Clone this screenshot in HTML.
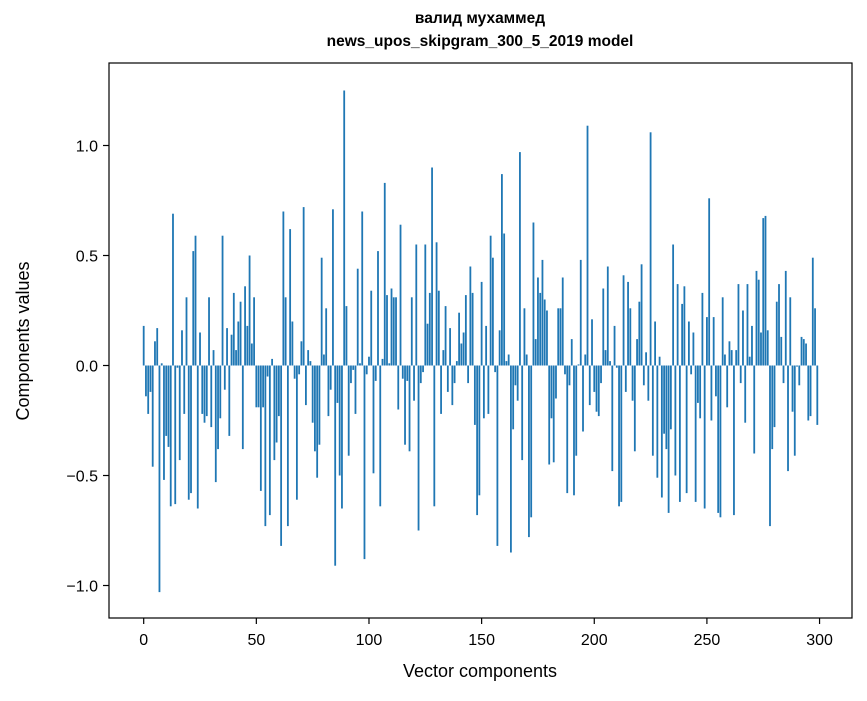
<!DOCTYPE html>
<html><head><meta charset="utf-8"><style>
body{margin:0;background:#fff;}
svg text{font-family:"Liberation Sans","DejaVu Sans",sans-serif;}
</style></head><body>
<svg id="chart" width="867" height="696" viewBox="0 0 867 696" xmlns="http://www.w3.org/2000/svg">
<rect width="867" height="696" fill="#fff"/>
<text x="480" y="28" text-anchor="middle" font-size="15.5" font-weight="bold" transform="translate(0,-5)">валид мухаммед</text>
<text x="480" y="51" text-anchor="middle" font-size="15.5" font-weight="bold" transform="translate(0,-5)">news_upos_skipgram_300_5_2019 model</text>
<g id="bars"></g>
<g id="axes"></g>
<rect x="109" y="63" width="743" height="555" fill="none" stroke="#000" stroke-width="1.2"/>
<text x="480" y="677" text-anchor="middle" font-size="18">Vector components</text>
<text transform="translate(29,341) rotate(-90)" text-anchor="middle" font-size="18">Components values</text>
</svg>
<script>
const values = [
0.18,-0.14,-0.22,-0.12,-0.46,0.11,0.17,-1.03,0.01,-0.52,
-0.32,-0.37,-0.64,0.69,-0.63,-0.01,-0.43,0.16,-0.22,0.31,
-0.61,-0.58,0.52,0.59,-0.65,0.15,-0.22,-0.26,-0.23,0.31,
-0.28,0.07,-0.53,-0.38,-0.24,0.59,-0.11,0.17,-0.32,0.14,
0.33,0.07,0.20,0.29,-0.38,0.36,0.18,0.50,0.10,0.31,
-0.19,-0.19,-0.57,-0.19,-0.73,-0.05,-0.68,0.03,-0.43,-0.35,
-0.23,-0.82,0.70,0.31,-0.73,0.62,0.20,-0.06,-0.61,-0.04,
0.11,0.72,-0.18,0.07,0.02,-0.26,-0.39,-0.51,-0.36,0.49,
0.05,0.26,-0.23,-0.11,0.71,-0.91,-0.17,-0.50,-0.65,1.25,
0.27,-0.41,-0.08,-0.02,-0.22,0.44,0.01,0.70,-0.88,-0.04,
0.04,0.34,-0.49,-0.07,0.52,-0.64,0.03,0.83,0.32,0.01,
0.35,0.31,0.31,-0.20,0.64,-0.06,-0.36,-0.07,-0.39,0.31,
-0.16,0.55,-0.75,-0.08,-0.03,0.55,0.19,0.33,0.90,-0.64,
0.56,0.34,-0.22,0.07,0.27,-0.12,0.17,-0.18,-0.08,0.02,
0.24,0.10,0.15,0.32,-0.08,0.45,0.33,-0.27,-0.68,-0.59,
0.38,-0.24,0.18,-0.22,0.59,0.49,-0.03,-0.82,0.16,0.87,
0.60,0.02,0.05,-0.85,-0.29,-0.09,-0.16,0.97,-0.43,0.26,
0.05,-0.78,-0.69,0.65,0.12,0.40,0.33,0.48,0.30,0.25,
-0.45,-0.24,-0.44,-0.15,0.26,0.26,0.40,-0.04,-0.58,-0.09,
0.12,-0.59,-0.41,0.005,0.48,-0.30,0.05,1.09,-0.18,0.21,
-0.12,-0.21,-0.23,-0.08,0.35,0.07,0.45,0.02,-0.48,0.18,
-0.01,-0.64,-0.62,0.41,-0.12,0.38,0.26,-0.16,-0.39,0.12,
0.29,0.46,-0.09,0.06,-0.16,1.06,-0.41,0.20,-0.51,0.04,
-0.60,-0.31,-0.38,-0.67,-0.29,0.55,-0.50,0.37,-0.62,0.28,
0.36,-0.58,0.20,-0.04,0.15,-0.62,-0.17,-0.24,0.33,-0.65,
0.22,0.76,-0.25,0.22,-0.14,-0.67,-0.69,0.31,0.05,-0.19,
0.11,0.07,-0.68,0.07,0.37,-0.08,0.25,-0.26,0.37,0.04,
0.18,-0.40,0.43,0.39,0.15,0.67,0.68,0.16,-0.73,-0.38,
-0.28,0.29,0.37,0.13,-0.08,0.43,-0.48,0.31,-0.21,-0.41,
-0.005,-0.09,0.13,0.12,0.10,-0.25,-0.23,0.49,0.26,-0.27
];
const xTicks = [0,50,100,150,200,250,300];
const yTicks = [-1.0,-0.5,0.0,0.5,1.0];
const yTickLabels = ["\u22121.0","\u22120.5","0.0","0.5","1.0"];

const L=109,R=852,T=63,B=618;
const xMin=-15.4,xMax=314.4,yMin=-1.1477,yMax=1.3750;
function xs(v){return L+(v-xMin)/(xMax-xMin)*(R-L);}
function ys(v){return B-(v-yMin)/(yMax-yMin)*(B-T);}
const NS="http://www.w3.org/2000/svg";
const gb=document.getElementById('bars');
values.forEach((v,i)=>{
  const r=document.createElementNS(NS,'rect');
  const x0=xs(i-0.4),x1=xs(i+0.4);
  const y0=ys(Math.max(v,0)),y1=ys(Math.min(v,0));
  r.setAttribute('x',x0);r.setAttribute('width',x1-x0);
  r.setAttribute('y',y0);r.setAttribute('height',Math.max(y1-y0,0.3));
  r.setAttribute('fill','#1f77b4');
  
  
  gb.appendChild(r);
});
const ga=document.getElementById('axes');
xTicks.forEach(t=>{
  const x=xs(t);
  const l=document.createElementNS(NS,'line');
  l.setAttribute('x1',x);l.setAttribute('x2',x);l.setAttribute('y1',B);l.setAttribute('y2',B+6);
  l.setAttribute('stroke','#000');l.setAttribute('stroke-width','1.2');
  
  
  ga.appendChild(l);
  const tx=document.createElementNS(NS,'text');
  tx.setAttribute('x',x);tx.setAttribute('y',B+27);tx.setAttribute('text-anchor','middle');tx.setAttribute('font-size','16');
  tx.textContent=String(t);
  
  
  ga.appendChild(tx);
});
yTicks.forEach((t,i)=>{
  const y=ys(t);
  const l=document.createElementNS(NS,'line');
  l.setAttribute('x1',L-6);l.setAttribute('x2',L);l.setAttribute('y1',y);l.setAttribute('y2',y);
  l.setAttribute('stroke','#000');l.setAttribute('stroke-width','1.2');
  
  
  ga.appendChild(l);
  const tx=document.createElementNS(NS,'text');
  tx.setAttribute('x',L-11);tx.setAttribute('y',y+6);tx.setAttribute('text-anchor','end');tx.setAttribute('font-size','16');
  tx.textContent=yTickLabels[i];
  
  
  ga.appendChild(tx);
});
</script>
</body></html>
